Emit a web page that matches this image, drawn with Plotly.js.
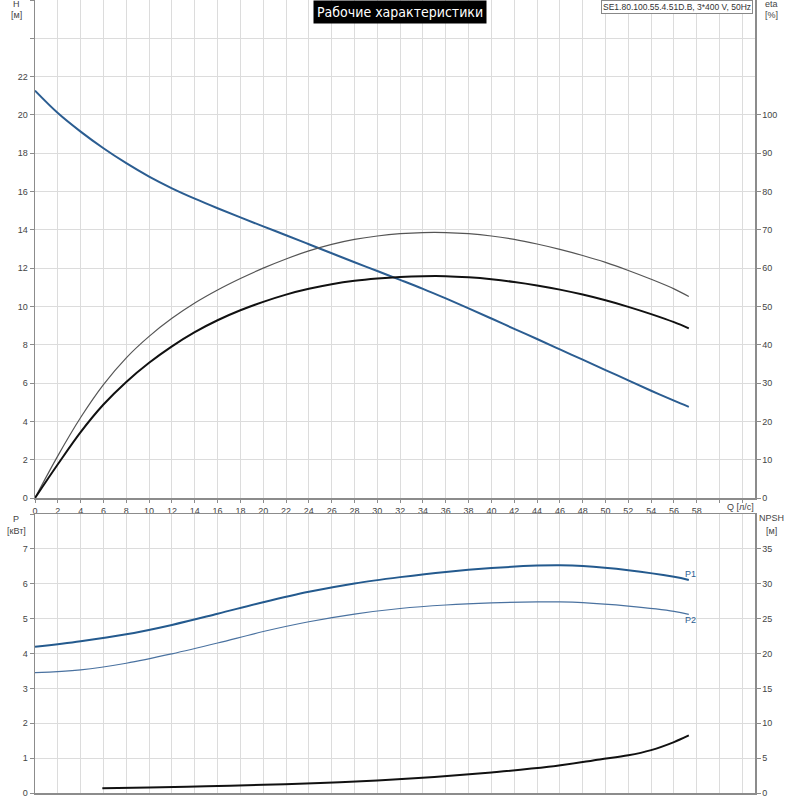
<!DOCTYPE html>
<html>
<head>
<meta charset="utf-8">
<script src="https://cdn.plot.ly/plotly-3.0.1.min.js"></script>
<style>
  html, body { margin:0; padding:0; background:#fff; }
  #chart { width:800px; height:800px; }
</style>
</head>
<body>
<div id="chart"></div>
<script>
// values

const qCurve = [0,2,4,6,8,10,12,14,16,18,20,22,24,26,28,30,32,34,36,38,40,42,44,46,48,50,52,54,56,57.3];
const headM = [21.27,20.1,19.13,18.26,17.48,16.78,16.17,15.63,15.13,14.65,14.18,13.72,13.25,12.78,12.31,11.85,11.39,10.92,10.42,9.9,9.37,8.83,8.3,7.76,7.22,6.68,6.14,5.6,5.08,4.76];
const etaPump = [0,11.0,21.0,29.6,36.6,42.2,46.9,50.9,54.3,57.3,60.0,62.4,64.5,66.2,67.5,68.4,69.0,69.3,69.3,69.0,68.4,67.5,66.3,64.9,63.3,61.5,59.4,57.1,54.6,52.6];
const etaTotal = [0,8.8,17.2,24.4,30.3,35.3,39.6,43.3,46.4,49.0,51.2,53.1,54.6,55.8,56.7,57.3,57.7,57.9,57.9,57.6,57.1,56.4,55.5,54.4,53.1,51.6,49.9,48.0,45.9,44.3];

const qPower = [0,4,8,12,16,20,24,28,32,36,40,44,46,48,52,56,57.3];
const p1 = [4.19,4.35,4.55,4.82,5.14,5.47,5.77,6.01,6.19,6.34,6.45,6.52,6.53,6.51,6.39,6.2,6.11];
const p2 = [3.45,3.53,3.72,3.99,4.30,4.63,4.91,5.13,5.29,5.39,5.45,5.48,5.48,5.46,5.36,5.21,5.12];

const qNpsh = [5.9,10,15,20,25,30,35,40,45,49.5,52,54,56,57.3];
const npsh = [0.67,0.78,0.95,1.17,1.45,1.8,2.3,2.95,3.75,4.8,5.4,6.15,7.3,8.25];

const qTicks = [0,2,4,6,8,10,12,14,16,18,20,22,24,26,28,30,32,34,36,38,40,42,44,46,48,50,52,54,56,58,60,62];
const qLabels = ['0','2','4','6','8','10','12','14','16','18','20','22','24','26','28','30','32','34','36','38','40','42','44','46','48','50','52','54','56','58','',''];
const hTicks = [0,2,4,6,8,10,12,14,16,18,20,22,24,26];
const hLabels = ['0','2','4','6','8','10','12','14','16','18','20','22','',''];
const etaTicks = [0,10,20,30,40,50,60,70,80,90,100];
const pTicks = [0,1,2,3,4,5,6,7,8];
const pLabels = ['0','1','2','3','4','5','6','7',''];
const npshTicks = [0,5,10,15,20,25,30,35];

// plot box in pixels: x 35..755, y 0..793
const L = 35, R = 45, B = 7, W = 800 - L - R, H = 800 - B;
const px = x => (x - L) / W;
const py = y => (H - y) / H;

const tickFont = { family:'Liberation Sans, Arial, sans-serif', size:9, color:'#444' };
const grid = '#dcdcdc';
const axisLine = '#8c8c8c';

const traces = [
  { x:qCurve, y:headM, xaxis:'x', yaxis:'y', mode:'lines',
    line:{ color:'#2b5d91', width:2, shape:'spline', smoothing:1 } },
  { x:qCurve, y:etaPump, xaxis:'x', yaxis:'y2', mode:'lines',
    line:{ color:'#555', width:1.2, shape:'spline', smoothing:1 } },
  { x:qCurve, y:etaTotal, xaxis:'x', yaxis:'y2', mode:'lines',
    line:{ color:'#111', width:2, shape:'spline', smoothing:1 } },
  { x:qPower, y:p1, xaxis:'x2', yaxis:'y3', mode:'lines',
    line:{ color:'#245a8e', width:2, shape:'spline', smoothing:1 } },
  { x:qPower, y:p2, xaxis:'x2', yaxis:'y3', mode:'lines',
    line:{ color:'#4a72a0', width:1.2, shape:'spline', smoothing:1 } },
  { x:qNpsh, y:npsh, xaxis:'x2', yaxis:'y4', mode:'lines',
    line:{ color:'#111', width:2, shape:'spline', smoothing:1 } }
];

const xRange = [0, 63.1];
const topBottom = py(498), lowTop = py(514);

function label(text, x, y, extra) {
  return Object.assign({ text:text, xref:'paper', yref:'paper', x:px(x), y:py(y),
    showarrow:false, xanchor:'center', yanchor:'middle', font:tickFont }, extra || {});
}

const layout = {
  width:800, height:800,
  margin:{ l:L, r:R, t:0, b:B, pad:0 },
  paper_bgcolor:'white', plot_bgcolor:'white',
  showlegend:false,
  xaxis:{ domain:[0,1], range:xRange, anchor:'y', tickvals:qTicks, ticktext:qLabels,
    showgrid:true, gridcolor:grid, zeroline:false, showline:true, linecolor:axisLine, linewidth:2,
    ticks:'outside', ticklen:3, tickcolor:axisLine, tickfont:tickFont },
  yaxis:{ domain:[topBottom,1], range:[0,26], tickvals:hTicks, ticktext:hLabels,
    showgrid:true, gridcolor:grid, zeroline:false, showline:true, linecolor:axisLine, linewidth:1.5,
    ticks:'outside', ticklen:4, tickcolor:axisLine, tickfont:tickFont },
  yaxis2:{ overlaying:'y', side:'right', anchor:'x', range:[0,130], tickvals:etaTicks,
    showgrid:false, zeroline:false, showline:true, linecolor:axisLine, linewidth:1.5,
    ticks:'outside', ticklen:4, tickcolor:axisLine, tickfont:tickFont },
  xaxis2:{ domain:[0,1], range:xRange, anchor:'y3', tickvals:qTicks, showticklabels:false,
    showgrid:true, gridcolor:grid, zeroline:false, showline:true, mirror:true, linecolor:axisLine, linewidth:1.5 },
  yaxis3:{ domain:[0,lowTop], range:[0,8], anchor:'x2', tickvals:pTicks, ticktext:pLabels,
    showgrid:true, gridcolor:grid, zeroline:false, showline:true, linecolor:axisLine, linewidth:1.5,
    ticks:'outside', ticklen:4, tickcolor:axisLine, tickfont:tickFont },
  yaxis4:{ overlaying:'y3', side:'right', anchor:'x2', range:[0,40], tickvals:npshTicks,
    showgrid:false, zeroline:false, showline:true, linecolor:axisLine, linewidth:1.5,
    ticks:'outside', ticklen:4, tickcolor:axisLine, tickfont:tickFont },
  annotations:[
    label('Рабочие характеристики', 400, 0, { yanchor:'top', bgcolor:'#000', borderpad:3,
      font:{ family:'DejaVu Sans Condensed, DejaVu Sans, sans-serif', size:14, color:'#fff' } }),
    label('SE1.80.100.55.4.51D.B, 3*400 V, 50Hz', 753, 0, { xanchor:'right', yanchor:'top',
      bgcolor:'#fff', bordercolor:'#888', borderwidth:1, borderpad:1,
      font:Object.assign({}, tickFont, { size:8.5, color:'#333' }) }),
    label('H', 16, 4), label('[м]', 16, 15),
    label('eta', 772, 4), label('[%]', 772, 15),
    label('P', 16, 519), label('[кВт]', 16, 531),
    label('NPSH', 772, 518), label('[м]', 772, 531),
    label('Q [л/с]', 740, 507),
    label('P1', 690, 574, { font:Object.assign({}, tickFont, { color:'#2b5d91' }) }),
    label('P2', 690, 620, { font:Object.assign({}, tickFont, { color:'#2b5d91' }) })
  ]
};

Plotly.newPlot('chart', traces, layout, { staticPlot:true, displayModeBar:false });
</script>
</body>
</html>
